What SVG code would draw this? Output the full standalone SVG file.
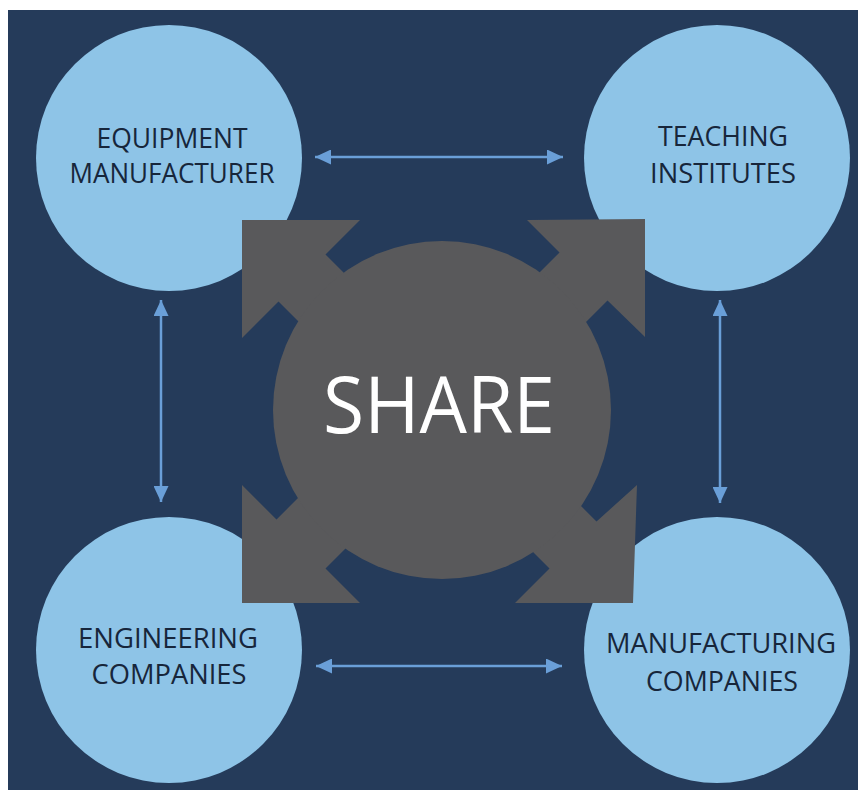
<svg xmlns="http://www.w3.org/2000/svg" width="858" height="790" viewBox="0 0 858 790">
  <defs>
    <style>
      .bg { fill: #253b5a; }
      .party { fill: #8ec4e7; }
      .hub { fill: #59595b; }
      .label { font-family: "Open Sans", "Liberation Sans", sans-serif; font-size: 27px; fill: #17263b; text-anchor: middle; }
      .hub-label { font-family: "Open Sans", "Liberation Sans", sans-serif; font-size: 78px; fill: #ffffff; text-anchor: middle; }
      .link { stroke: #6a9fd8; stroke-width: 2.5; fill: none; marker-start: url(#head); marker-end: url(#head); }
    </style>
    <marker id="head" viewBox="0 0 16 15" refX="16" refY="7.5" markerWidth="16" markerHeight="15" markerUnits="userSpaceOnUse" orient="auto-start-reverse">
      <path d="M0,0 L16,7.5 L0,15 Z" fill="#6a9fd8"/>
    </marker>
  </defs>

  <!-- page -->
  <rect x="0" y="0" width="858" height="790" fill="#ffffff"/>
  <rect class="bg" x="8" y="10" width="850" height="780"/>

  <!-- partner nodes -->
  <g id="equipment-manufacturer">
    <circle class="party" cx="169" cy="158" r="133"/>
    <text class="label" x="172" y="148" textLength="151" lengthAdjust="spacingAndGlyphs">EQUIPMENT</text>
    <text class="label" x="172" y="183" textLength="205" lengthAdjust="spacingAndGlyphs">MANUFACTURER</text>
  </g>
  <g id="teaching-institutes">
    <circle class="party" cx="717" cy="158" r="133"/>
    <text class="label" x="723" y="146" textLength="130" lengthAdjust="spacingAndGlyphs">TEACHING</text>
    <text class="label" x="723" y="183" textLength="146" lengthAdjust="spacingAndGlyphs">INSTITUTES</text>
  </g>
  <g id="engineering-companies">
    <circle class="party" cx="169" cy="650" r="133"/>
    <text class="label" x="168" y="648" textLength="180" lengthAdjust="spacingAndGlyphs">ENGINEERING</text>
    <text class="label" x="169" y="684" textLength="155" lengthAdjust="spacingAndGlyphs">COMPANIES</text>
  </g>
  <g id="manufacturing-companies">
    <circle class="party" cx="717" cy="650" r="133"/>
    <text class="label" x="721" y="653" textLength="230" lengthAdjust="spacingAndGlyphs">MANUFACTURING</text>
    <text class="label" x="722" y="691" textLength="152" lengthAdjust="spacingAndGlyphs">COMPANIES</text>
  </g>

  <!-- central hub: four outward corner arrows around a disc -->
  <g id="share">
    <polygon class="hub" points="242,220 360,220 325.5,254.5 445.5,374.5 398.5,421.5 278.5,301.5 242,338"/>
    <polygon class="hub" points="645,219 527,220 559.5,252.5 436,376 484,424 607.5,300.5 645,337"/>
    <polygon class="hub" points="242,603 242,485 276.5,519.5 408,388 457,437 325.5,568.5 360,603"/>
    <polygon class="hub" points="633,603 515,603 549.5,568.5 449.5,468.5 496.5,421.5 596.5,521.5 637,485"/>
    <circle class="hub" cx="442" cy="410" r="169"/>
    <text class="hub-label" x="439" y="433" textLength="232" lengthAdjust="spacingAndGlyphs">SHARE</text>
  </g>

  <!-- two-way links between neighbouring partners -->
  <g id="connectors">
    <line class="link" x1="315" y1="157" x2="563" y2="157"/>
    <line class="link" x1="316" y1="666" x2="562" y2="666"/>
    <line class="link" x1="161" y1="300" x2="161" y2="502"/>
    <line class="link" x1="720" y1="300" x2="720" y2="503"/>
  </g>
</svg>
